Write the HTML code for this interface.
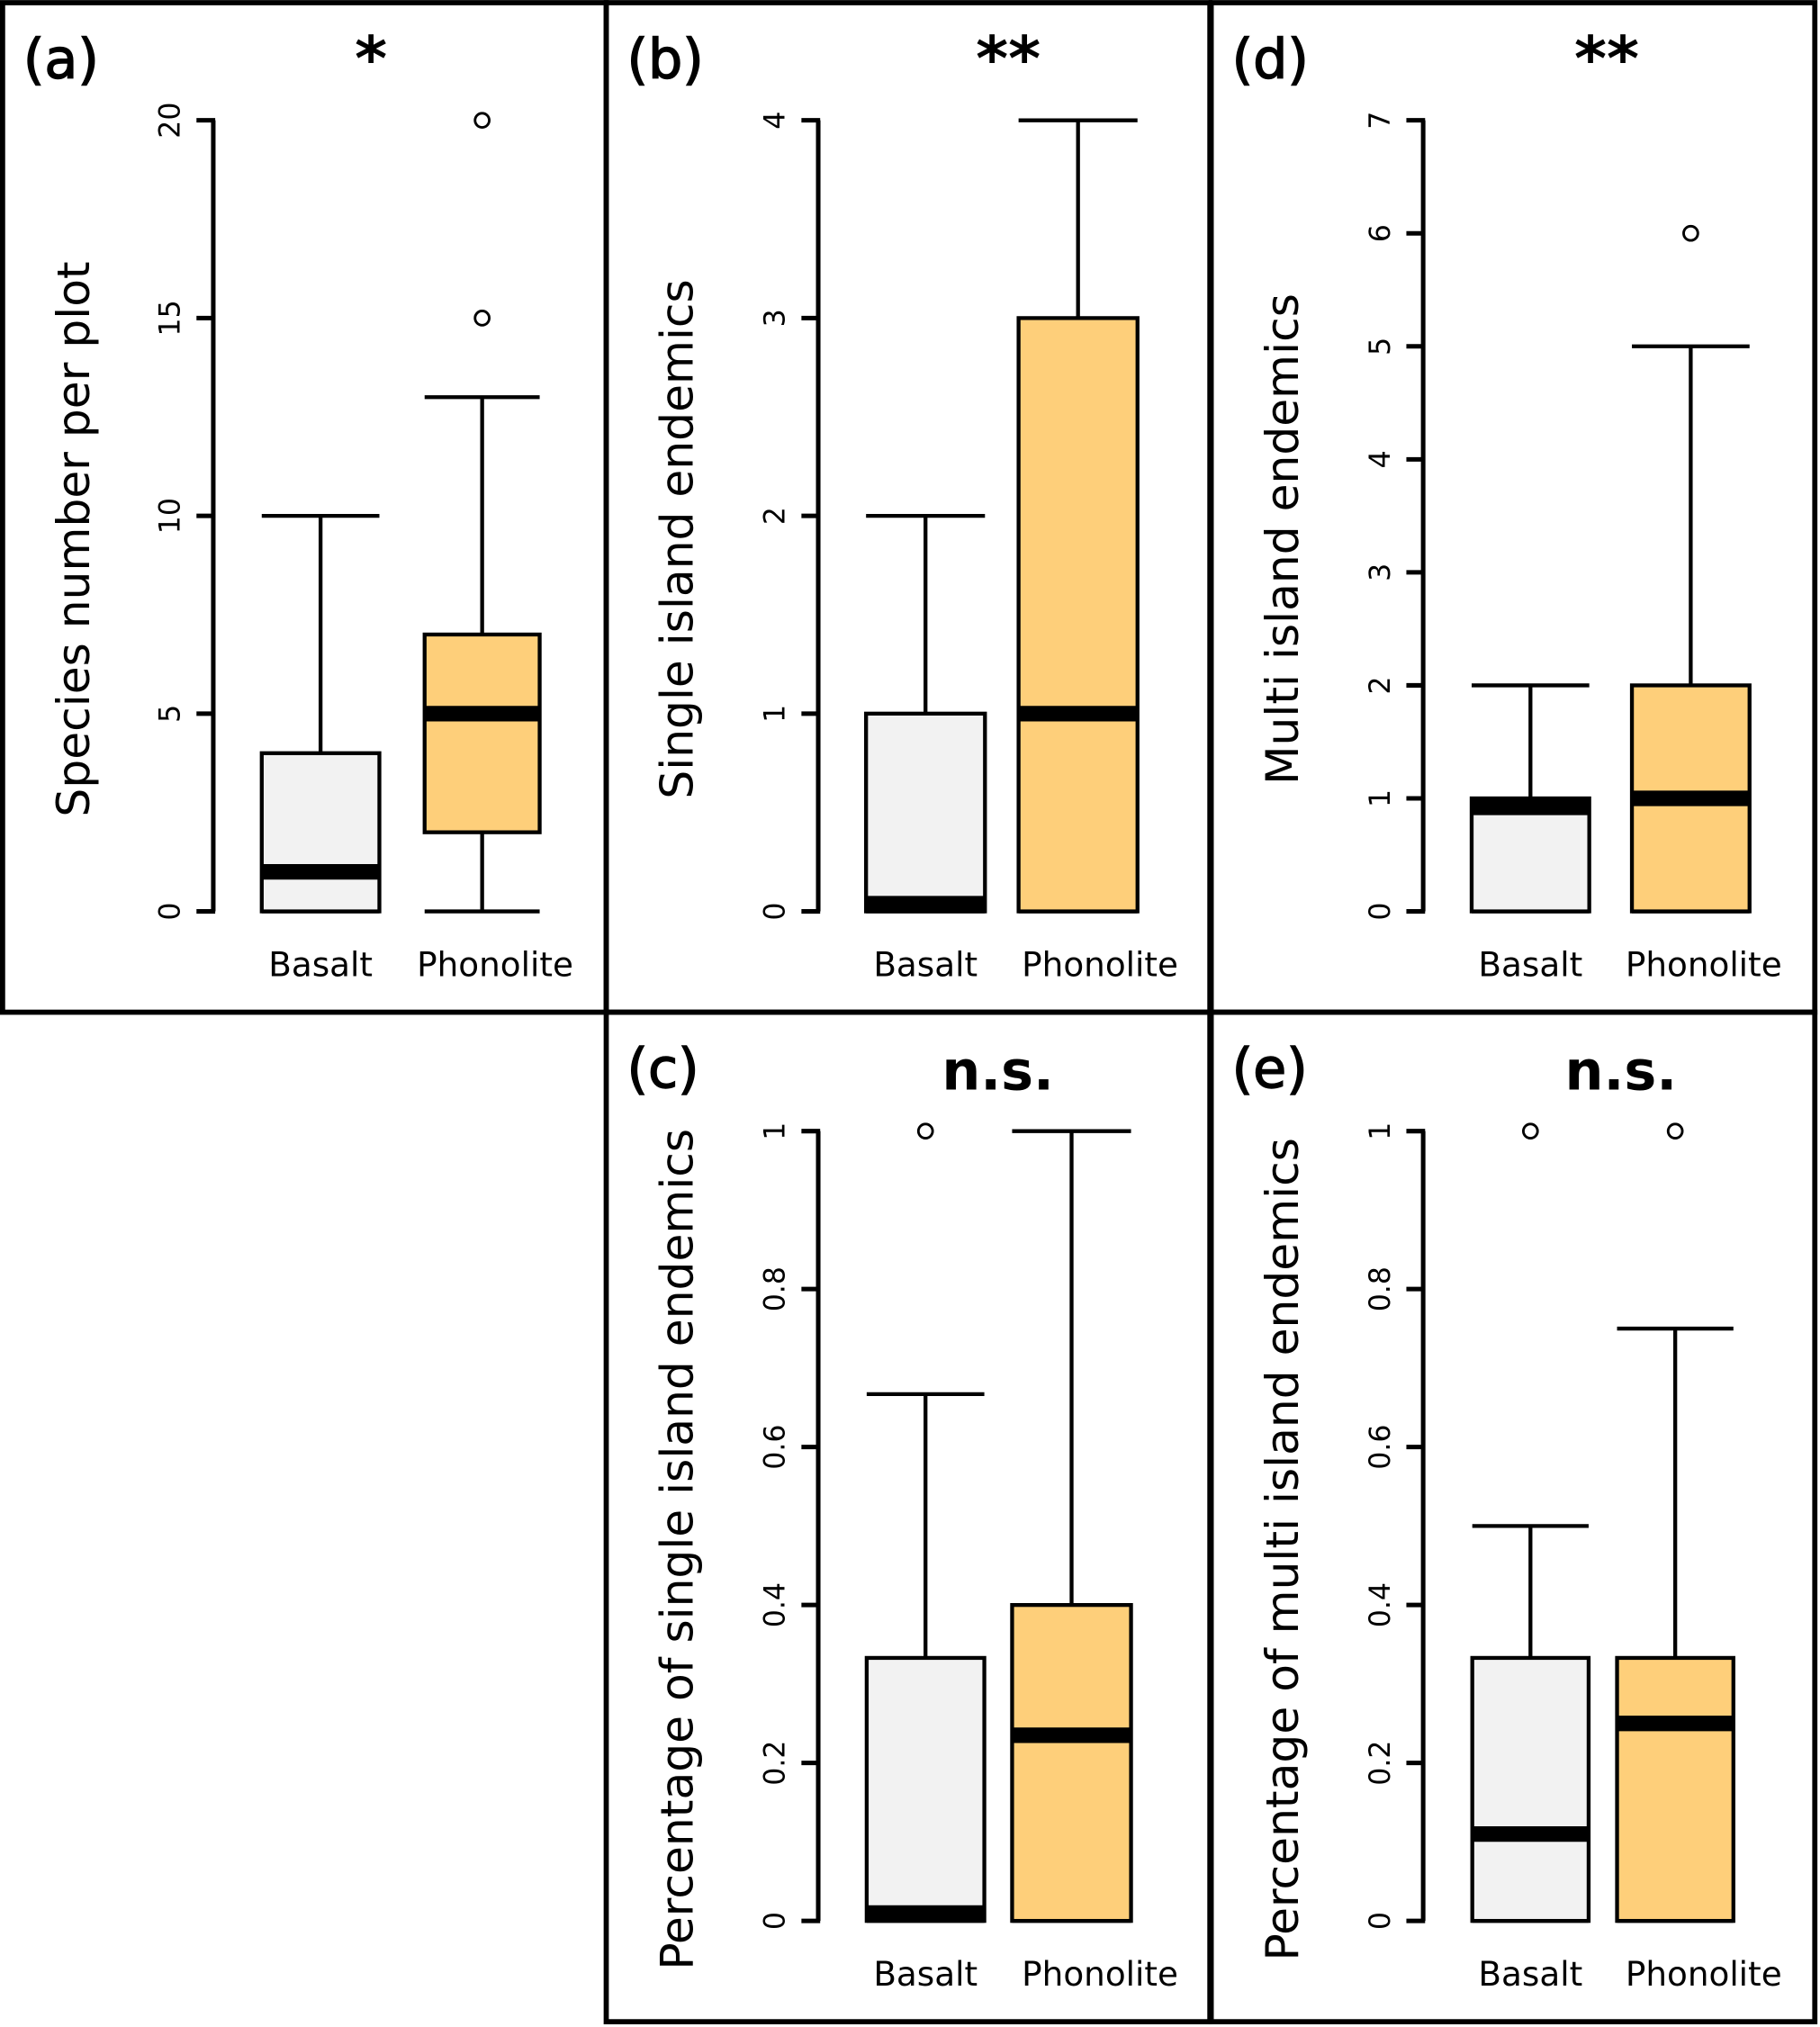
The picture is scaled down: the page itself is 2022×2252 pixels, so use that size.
<!DOCTYPE html>
<html><head><meta charset="utf-8"><style>
html,body{margin:0;padding:0;background:#fff}
svg{display:block}
text{font-family:"DejaVu Sans","Liberation Sans",sans-serif;fill:#000}
</style></head><body>
<svg id="chart" xmlns="http://www.w3.org/2000/svg" width="2022" height="2252" viewBox="0 0 1408 1568">
<rect x="0" y="0" width="1408" height="1568" fill="#fff"/>
<g id="root"></g>
</svg>
<script>
const categories = ["Basalt", "Phonolite"];
const panelIds = ["a", "b", "d", "c", "e"];
const panelSig = ["*", "**", "**", "n.s.", "n.s."];
const panelYLabels = ["Species number per plot", "Single island endemics", "Multi island endemics", "Percentage of single island endemics", "Percentage of multi island endemics"];
const panelYMax = [20, 4, 7, 1, 1];
const tickA = ["0", "5", "10", "15", "20"];
const tickB = ["0", "1", "2", "3", "4"];
const tickD = ["0", "1", "2", "3", "4", "5", "6", "7"];
const tickC = ["0", "0.2", "0.4", "0.6", "0.8", "1"];
const tickE = ["0", "0.2", "0.4", "0.6", "0.8", "1"];
// [min, q1, median, q3, max]
const statsA = [[0, 0, 1, 4, 10], [0, 2, 5, 7, 13]];
const statsB = [[0, 0, 0.03, 1, 2], [0, 0, 1, 3, 4]];
const statsD = [[0, 0, 0.92, 1, 2], [0, 0, 1, 2, 5]];
const statsC = [[0, 0, 0.01, 0.333, 0.667], [0, 0, 0.235, 0.4, 1]];
const statsE = [[0, 0, 0.11, 0.333, 0.5], [0, 0, 0.25, 0.333, 0.75]];
const outliersA = [[], [15, 20]];
const outliersB = [[], []];
const outliersD = [[], [6]];
const outliersC = [[1], []];
const outliersE = [[1], [1]];

const NS = "http://www.w3.org/2000/svg";
const root = document.getElementById("root");
function mk(tag, attrs, parent) {
  const e = document.createElementNS(NS, tag);
  for (const k in attrs) e.setAttribute(k, attrs[k]);
  (parent || root).appendChild(e);
  return e;
}
const layouts = [
  {x0: 2, y0: 2, ax: 165, bx: [248, 373], bw: [91, 89], top: 93, bot: 705, lbl: [248, 383], sig: 287},
  {x0: 469, y0: 2, ax: 633, bx: [716, 834], bw: [92, 92], top: 93, bot: 705, lbl: [716, 851], sig: 780},
  {x0: 937, y0: 2, ax: 1101, bx: [1184, 1308], bw: [91, 91], top: 93, bot: 705, lbl: [1184, 1318], sig: 1243},
  {x0: 469, y0: 783, ax: 633, bx: [716, 829], bw: [91, 92], top: 875, bot: 1486, lbl: [716, 851], sig: 772},
  {x0: 937, y0: 783, ax: 1101, bx: [1184, 1296], bw: [90, 90], top: 875, bot: 1486, lbl: [1184, 1318], sig: 1254}
];
const allStats = [statsA, statsB, statsD, statsC, statsE];
const allOut = [outliersA, outliersB, outliersD, outliersC, outliersE];
const allTicks = [tickA, tickB, tickD, tickC, tickE];
const fills = ["#f2f2f2", "#fecf7a"];

panelIds.forEach((pid, i) => {
  const L = layouts[i];
  const g = mk("g", {});
  
  
  const border = mk("rect", {x: L.x0, y: L.y0, width: 467, height: 781, fill: "none", stroke: "#000", "stroke-width": 4}, g);
  
  
  const ymax = panelYMax[i];
  const yS = v => L.bot - (v / ymax) * (L.bot - L.top);
  const lt = mk("text", {x: L.x0 + 16, y: L.y0 + 58, "font-size": 42, stroke: "#000", "stroke-width": 1}, g);
  lt.textContent = "(" + pid + ")";
  
  
  const sg = mk("text", {x: L.sig, y: L.y0 + 60, "font-size": i >= 3 ? 42 : 48, "font-weight": "bold", "text-anchor": "middle"}, g);
  sg.textContent = panelSig[i];
  
  
  const ax = mk("line", {x1: L.ax, x2: L.ax, y1: L.top, y2: L.bot, stroke: "#000", "stroke-width": 3.5}, g);
  
  
  allTicks[i].forEach(t => {
    const y = yS(parseFloat(t));
    const tk = mk("line", {x1: L.ax - 13, x2: L.ax + 1.5, y1: y, y2: y, stroke: "#000", "stroke-width": 3.5}, g);
    
    
    const tl = mk("text", {x: 0, y: 0, "font-size": 22, "text-anchor": "middle", transform: `translate(${L.ax - 26},${y}) rotate(-90)`}, g);
    tl.textContent = t;
    
    
  });
  const yl = mk("text", {x: 0, y: 0, "font-size": 35, "text-anchor": "middle", transform: `translate(${L.x0 + 67},${(L.top + L.bot) / 2 + 18}) rotate(-90)`}, g);
  yl.textContent = panelYLabels[i];
  
  
  categories.forEach((c, j) => {
    const s = allStats[i][j];
    const cx = L.bx[j], w = L.bw[j];
    const lx = cx - w / 2, rx = cx + w / 2;
    const wk = mk("line", {x1: cx, x2: cx, y1: yS(s[4]), y2: yS(s[3]), stroke: "#000", "stroke-width": 3}, g);
    
    
    const cap = mk("line", {x1: lx, x2: rx, y1: yS(s[4]), y2: yS(s[4]), stroke: "#000", "stroke-width": 3}, g);
    
    
    const wk2 = mk("line", {x1: cx, x2: cx, y1: yS(s[1]), y2: yS(s[0]), stroke: "#000", "stroke-width": 3}, g);
    
    
    const cap2 = mk("line", {x1: lx, x2: rx, y1: yS(s[0]), y2: yS(s[0]), stroke: "#000", "stroke-width": 3}, g);
    
    
    const bx = mk("rect", {x: lx, y: yS(s[3]), width: w, height: Math.max(yS(s[1]) - yS(s[3]), 0), fill: fills[j], stroke: "#000", "stroke-width": 3}, g);
    
    
    const my = Math.min(yS(s[2]), L.bot - 6);
    const md = mk("line", {x1: lx, x2: rx, y1: my, y2: my, stroke: "#000", "stroke-width": 12}, g);
    
    
    allOut[i][j].forEach(o => {
      const oc = mk("circle", {cx: cx, cy: yS(o), r: 5.5, fill: "#fff", stroke: "#000", "stroke-width": 2}, g);
      
      
    });
    const cl = mk("text", {x: L.lbl[j], y: L.bot + 50, "font-size": 26, "text-anchor": "middle"}, g);
    cl.textContent = c;
    
    
  });
});
</script>
</body></html>
